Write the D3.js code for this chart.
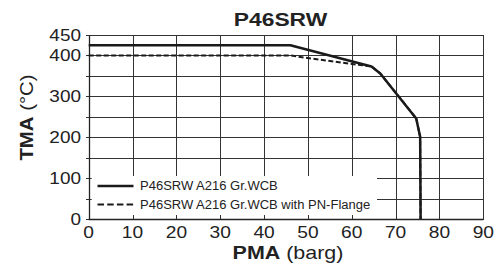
<!DOCTYPE html>
<meta charset="utf-8">
<style>
body { margin: 0; background: #fff; }
text { font-family: "Liberation Sans", Arial, sans-serif; fill: #222; }
.grid line { stroke: #333; stroke-width: 1; shape-rendering: crispEdges; }
</style>
<svg width="500" height="266"></svg>
<script src="https://d3js.org/d3.v7.min.js"></script>
<script>

var title = "P46SRW";
var xTicks = [0, 10, 20, 30, 40, 50, 60, 70, 80, 90];
var yGrid = [0, 50, 100, 150, 200, 250, 300, 350, 400, 450];
var yLabels = [0, 100, 200, 300, 400, 450];

var seriesNames = ["P46SRW A216 Gr.WCB", "P46SRW A216 Gr.WCB with PN-Flange"];
var solidX = [0, 46, 64.5, 66.5, 74.7, 75.6, 75.7];
var solidY = [425, 425, 373, 356, 246, 201, 0];
var dashX = [0, 46, 51, 64.5, 66.5, 74.7, 75.6, 75.7];
var dashY = [400, 400, 392, 373, 356, 246, 201, 0];

var svg = d3.select("svg");

var x = d3.scaleLinear().domain([0, 90]).range([88.7, 483.3]);
var y = d3.scaleLinear().domain([0, 450]).range([219, 35]);

// stretched text helper (reference glyphs are wider than Arial)
function label(g, txt, tx, ty, size, sx, anchor, weight) {
  return g.append("text")
      .attr("transform", "translate(" + tx + "," + ty + ") scale(" + sx + ",1)")
      .attr("text-anchor", anchor)
      .style("font-size", size + "px")
      .style("font-weight", weight || "normal")
      .text(txt);
}

var grid = svg.append("g").attr("class", "grid");

grid.selectAll(".h").data(yGrid).enter().append("line")
    .attr("x1", x(0) - 2.5).attr("x2", x(90))
    .attr("y1", function(d) { return Math.round(y(d)) + 0.5; })
    .attr("y2", function(d) { return Math.round(y(d)) + 0.5; });

grid.selectAll(".v").data(xTicks).enter().append("line")
    .attr("x1", function(d) { return Math.round(x(d)) + 0.5; })
    .attr("x2", function(d) { return Math.round(x(d)) + 0.5; })
    .attr("y1", y(450)).attr("y2", y(0) + 1);

// legend box hides the grid behind it
svg.append("rect")
    .attr("x", x(0) + 3).attr("y", 176)
    .attr("width", 377 - x(0) - 3).attr("height", 39)
    .attr("fill", "#fff");

// axes frame
svg.append("line").attr("x1", Math.round(x(0)) + 0.5).attr("x2", Math.round(x(0)) + 0.5)
    .attr("y1", y(450)).attr("y2", y(0) + 1).attr("stroke", "#222").attr("stroke-width", 1.3);
svg.append("line").attr("x1", x(0)).attr("x2", x(90))
    .attr("y1", Math.round(y(0)) + 0.5).attr("y2", Math.round(y(0)) + 0.5)
    .attr("stroke", "#222").attr("stroke-width", 1.3);

var line = d3.line()
    .x(function(d) { return x(d[0]); })
    .y(function(d) { return y(d[1]); });

var dashData = d3.zip(dashX, dashY);
var solidData = d3.zip(solidX, solidY);

svg.append("path").datum(dashData)
    .attr("d", line).attr("fill", "none")
    .attr("stroke", "#1a1a1a").attr("stroke-width", 2)
    .attr("stroke-dasharray", "5,2.5");

svg.append("path").datum(solidData)
    .attr("d", line).attr("fill", "none")
    .attr("stroke", "#1a1a1a").attr("stroke-width", 2.5)
    .attr("stroke-linejoin", "round");

// legend
var leg = svg.append("g");
[186, 204.5].forEach(function(ly, i) {
  leg.append("line")
      .attr("x1", 97.5).attr("x2", 133.5)
      .attr("y1", ly).attr("y2", ly)
      .attr("stroke", "#1a1a1a").attr("stroke-width", i ? 2 : 2.5)
      .attr("stroke-dasharray", i ? "6.5,3.2" : null);
  label(leg, seriesNames[i], 140, ly + 4.3, 12.5, 1.04, "start");
});

// tick labels
var tl = svg.append("g");
yLabels.forEach(function(d) {
  label(tl, d, 81, y(d) + 6, 16.5, 1.15, "end");
});
xTicks.forEach(function(d) {
  label(tl, d, x(d), 237.5, 17, 1.13, "middle");
});

// title
label(svg, title, 280.5, 26, 19, 1.2, "middle", "bold");

// axis titles
var xt = svg.append("text")
    .attr("transform", "translate(288,258.5) scale(1.16,1)")
    .attr("text-anchor", "middle")
    .style("font-size", "18.5px");
xt.append("tspan").style("font-weight", "bold").text("PMA");
xt.append("tspan").text(" (barg)");

var yt = svg.append("text")
    .attr("transform", "translate(33,117.5) rotate(-90) scale(1.1,1)")
    .attr("text-anchor", "middle")
    .style("font-size", "18.5px");
yt.append("tspan").style("font-weight", "bold").text("TMA");
yt.append("tspan").text(" (°C)");

</script>
